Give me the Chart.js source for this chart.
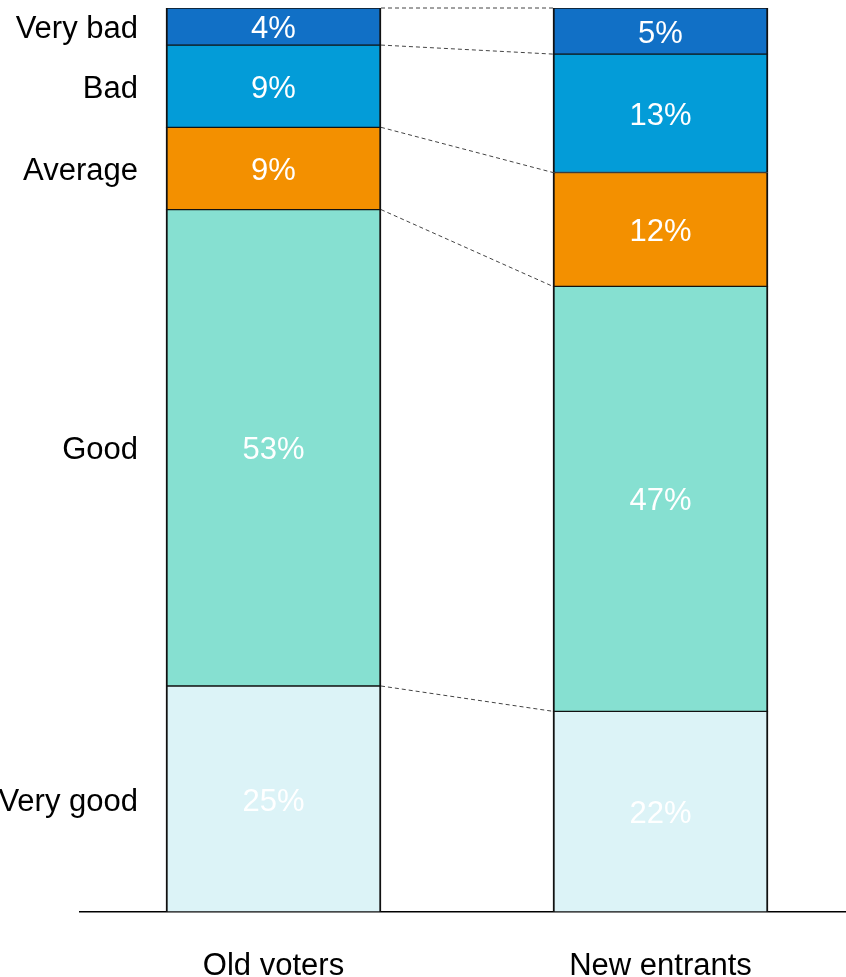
<!DOCTYPE html>
<html>
<head>
<meta charset="utf-8">
<script src="https://cdn.jsdelivr.net/npm/chart.js@4"></script>
<style>
  html, body { margin: 0; padding: 0; background: #fff; overflow: hidden; }
  #wrap { width: 854px; height: 977px; }
</style>
</head>
<body>
<div id="wrap"><canvas id="myChart"></canvas></div>
<script>
  // Groups along the x axis
  const groups = ['Old voters', 'New entrants'];

  // Ratings, bottom of the stack first
  const ratings = ['Very good', 'Good', 'Average', 'Bad', 'Very bad'];

  // Shares (percent), same order as ratings
  const veryGood = [25.0, 22.2];
  const good = [52.7, 47.0];
  const average = [9.1, 12.6];
  const bad = [9.1, 13.1];
  const veryBad = [4.1, 5.1];

  // Labels as printed on the bars
  const veryGoodText = ['25%', '22%'];
  const goodText = ['53%', '47%'];
  const averageText = ['9%', '12%'];
  const badText = ['9%', '13%'];
  const veryBadText = ['4%', '5%'];

  const colors = ['#dcf3f7', '#86e0d1', '#f39000', '#039cd8', '#1170c6'];

  const series = [veryGood, good, average, bad, veryBad];
  const texts = [veryGoodText, goodText, averageText, badText, veryBadText];

  const family = '"Liberation Sans", Arial, sans-serif';
  const font = '31px ' + family;

  // Draws the % labels, the rating names on the left and the dashed links
  const decorations = {
    id: 'decorations',
    afterDatasetsDraw(chart) {
      const ctx = chart.ctx;
      ctx.save();
      ctx.font = font;
      ctx.textBaseline = 'middle';

      chart.data.datasets.forEach((ds, i) => {
        const meta = chart.getDatasetMeta(i);
        meta.data.forEach((bar, j) => {
          const p = bar.getProps(['x', 'y', 'base'], true);
          const cy = (p.y + p.base) / 2 + 3;
          ctx.fillStyle = '#fff';
          ctx.textAlign = 'center';
          ctx.fillText(texts[i][j], p.x, cy);
          if (j === 0) {
            ctx.fillStyle = '#000';
            ctx.textAlign = 'right';
            ctx.fillText(ratings[i], 138, cy);
          }
        });
      });

      // dashed connectors between segment tops
      ctx.strokeStyle = '#444';
      ctx.lineWidth = 1;
      ctx.setLineDash([4, 3]);
      chart.data.datasets.forEach((ds, i) => {
        const meta = chart.getDatasetMeta(i);
        const a = meta.data[0].getProps(['x', 'y', 'width'], true);
        const b = meta.data[1].getProps(['x', 'y', 'width'], true);
        ctx.beginPath();
        ctx.moveTo(a.x + a.width / 2, a.y);
        ctx.lineTo(b.x - b.width / 2, b.y);
        ctx.stroke();
      });
      ctx.restore();
    }
  };

  const myChart = document.getElementById('myChart').getContext('2d');

  new Chart(myChart, {
    type: 'bar',
    data: {
      labels: groups,
      datasets: ratings.map((r, i) => ({
        label: r,
        data: series[i],
        backgroundColor: colors[i],
        borderColor: '#111',
        borderWidth: { left: 2, right: 2, top: 1, bottom: 1 },
        borderSkipped: false,
        barThickness: 215
      }))
    },
    options: {
      responsive: true,
      maintainAspectRatio: false,
      animation: false,
      layout: { padding: { left: 80, top: 8, right: 0, bottom: 0 } },
      plugins: {
        legend: { display: false },
        tooltip: { enabled: false }
      },
      scales: {
        x: {
          stacked: true,
          grid: { display: false, drawTicks: false },
          border: { display: true, color: '#000', width: 1.5 },
          ticks: {
            color: '#000',
            padding: 36,
            font: { family: family, size: 31 }
          },
          afterFit(scale) { scale.height = 65; }
        },
        y: {
          stacked: true,
          display: false,
          min: 0,
          max: 100
        }
      }
    },
    plugins: [decorations]
  });
</script>
</body>
</html>
